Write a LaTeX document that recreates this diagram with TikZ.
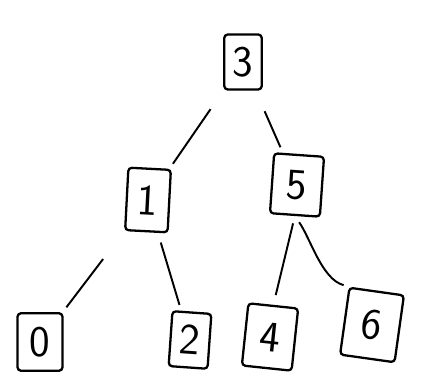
\documentclass[tikz,border=0pt]{standalone}
\usepackage{tikz}
\usetikzlibrary{arrows,positioning,calc}
\tikzset{>=stealth}
\tikzset{key/.style={draw,line width=1.3pt,rounded corners=2pt,minimum width=0.85cm,minimum height=1.15cm,inner sep=0pt,font=\sffamily\Huge}}
\tikzset{edge/.style={line width=1.1pt,shorten <=0.45cm,shorten >=0.12cm}}

\begin{document}
\begin{tikzpicture}
					\useasboundingbox (0,0) rectangle (8.58,7.8);
					%Nodes
					\node[key,minimum width=0.75cm,minimum height=1.1cm] (R) at (4.86,6.56) {3};
					\node[key,minimum height=1.25cm,rotate=-3] (L) at (2.96,3.8) {1};
					\node[key,minimum width=1cm,minimum height=1.2cm,rotate=-4] (M) at (5.94,4.1) {5};
					\node[key,minimum width=0.9cm] (A) at (0.8,0.96) {0};
					\node[key,minimum width=0.78cm,minimum height=1.1cm,rotate=-4] (B) at (3.8,1.0) {2};
					\node[key,minimum width=1cm,minimum height=1.25cm,rotate=-6] (C) at (5.4,1.06) {4};
					\node[key,minimum width=1.1cm,minimum height=1.35cm,rotate=-8] (D) at (7.44,1.3) {6};
					
					%Edges
					\draw[edge] (R) -- (L);
					\draw[edge] (R) -- (M);
					\draw[edge,shorten <=0.7cm] (L) -- (A);
					\draw[edge,shorten <=0.2cm] (L) -- (B);
					\draw[edge,shorten <=0.15cm,shorten >=0.2cm] (M.south) -- (C.north);
					\draw[edge,shorten <=0.15cm,shorten >=0.1cm] (M.south) to[out=-55,in=165,looseness=0.8] (D.north west);
				\end{tikzpicture}
\end{document}
